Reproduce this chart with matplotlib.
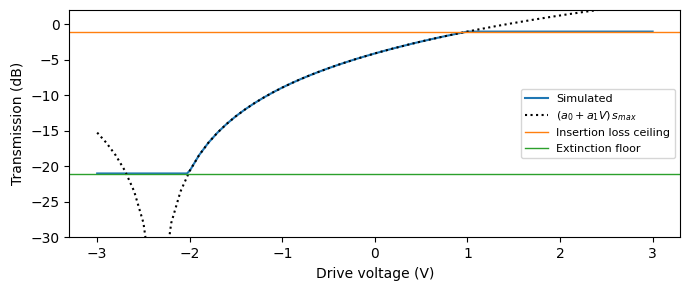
import matplotlib
matplotlib.use("Agg")
import matplotlib.pyplot as plt

# Drive voltage samples (V)
voltage = [-3.0, -2.9, -2.8, -2.7, -2.6, -2.5, -2.4, -2.3, -2.2, -2.1, -2.0,
           -1.9, -1.8, -1.7, -1.6, -1.5, -1.4, -1.3, -1.2, -1.1, -1.0,
           -0.9, -0.8, -0.7, -0.6, -0.5, -0.4, -0.3, -0.2, -0.1, 0.0,
           0.1, 0.2, 0.3, 0.4, 0.5, 0.6, 0.7, 0.8, 0.9, 1.0,
           1.1, 1.2, 1.3, 1.4, 1.5, 1.6, 1.7, 1.8, 1.9, 2.0,
           2.1, 2.2, 2.3, 2.4, 2.5, 2.6, 2.7, 2.8, 2.9, 3.0]

# Linear model (a0 + a1 V) s_max, in dB
model_db = [-15.24, -16.69, -18.44, -20.62, -23.54, -27.98, -37.52, -37.52, -27.98, -23.54, -20.62,
            -18.44, -16.69, -15.24, -14.00, -12.91, -11.95, -11.08, -10.29, -9.56, -8.89,
            -8.27, -7.69, -7.15, -6.64, -6.16, -5.70, -5.27, -4.85, -4.46, -4.08,
            -3.72, -3.37, -3.04, -2.71, -2.40, -2.10, -1.81, -1.53, -1.26, -1.00,
            -0.74, -0.50, -0.25, -0.02, 0.21, 0.43, 0.65, 0.86, 1.07, 1.27,
            1.47, 1.66, 1.85, 2.03, 2.22, 2.40, 2.57, 2.74, 2.91, 3.07]

# Simulated transmission (dB)
sim_v = [-3.0, -2.5, -2.1, -2.03, -2.0, -1.9, -1.8, -1.7, -1.6, -1.5, -1.4, -1.3, -1.2, -1.1, -1.0,
         -0.9, -0.8, -0.7, -0.6, -0.5, -0.4, -0.3, -0.2, -0.1, 0.0,
         0.1, 0.2, 0.3, 0.4, 0.5, 0.6, 0.7, 0.8, 0.9, 1.0, 2.0, 3.0]
sim_db = [-21.0, -21.0, -21.0, -21.0, -20.62, -18.44, -16.69, -15.24, -14.00, -12.91, -11.95, -11.08, -10.29, -9.56, -8.89,
          -8.27, -7.69, -7.15, -6.64, -6.16, -5.70, -5.27, -4.85, -4.46, -4.08,
          -3.72, -3.37, -3.04, -2.71, -2.40, -2.10, -1.81, -1.53, -1.26, -1.00, -1.00, -1.00]

insertion_loss_ceiling = -1.0
extinction_floor = -21.05

fig = plt.figure(figsize=(6.9, 2.9), dpi=100)
ax = fig.add_axes([69.4 / 690, 1 - 237.3 / 290, (680.4 - 69.4) / 690, (237.3 - 10.3) / 290])
ax.plot(sim_v, sim_db, color="#1f77b4", lw=1.5, label="Simulated")
ax.plot(voltage, model_db, color="black", lw=1.5, ls=":", label=r"$(a_0 + a_1 V)\,s_{max}$")
ax.axhline(insertion_loss_ceiling, color="#ff7f0e", lw=1.0, label="Insertion loss ceiling")
ax.axhline(extinction_floor, color="#2ca02c", lw=1.0, label="Extinction floor")

ax.set_xlim(-3.3, 3.3)
ax.set_ylim(-30, 2)
ax.set_xlabel("Drive voltage (V)")
ax.set_ylabel("Transmission (dB)")
ax.legend(loc="center right", fontsize=8)
fig.savefig("out.png", dpi=100)
